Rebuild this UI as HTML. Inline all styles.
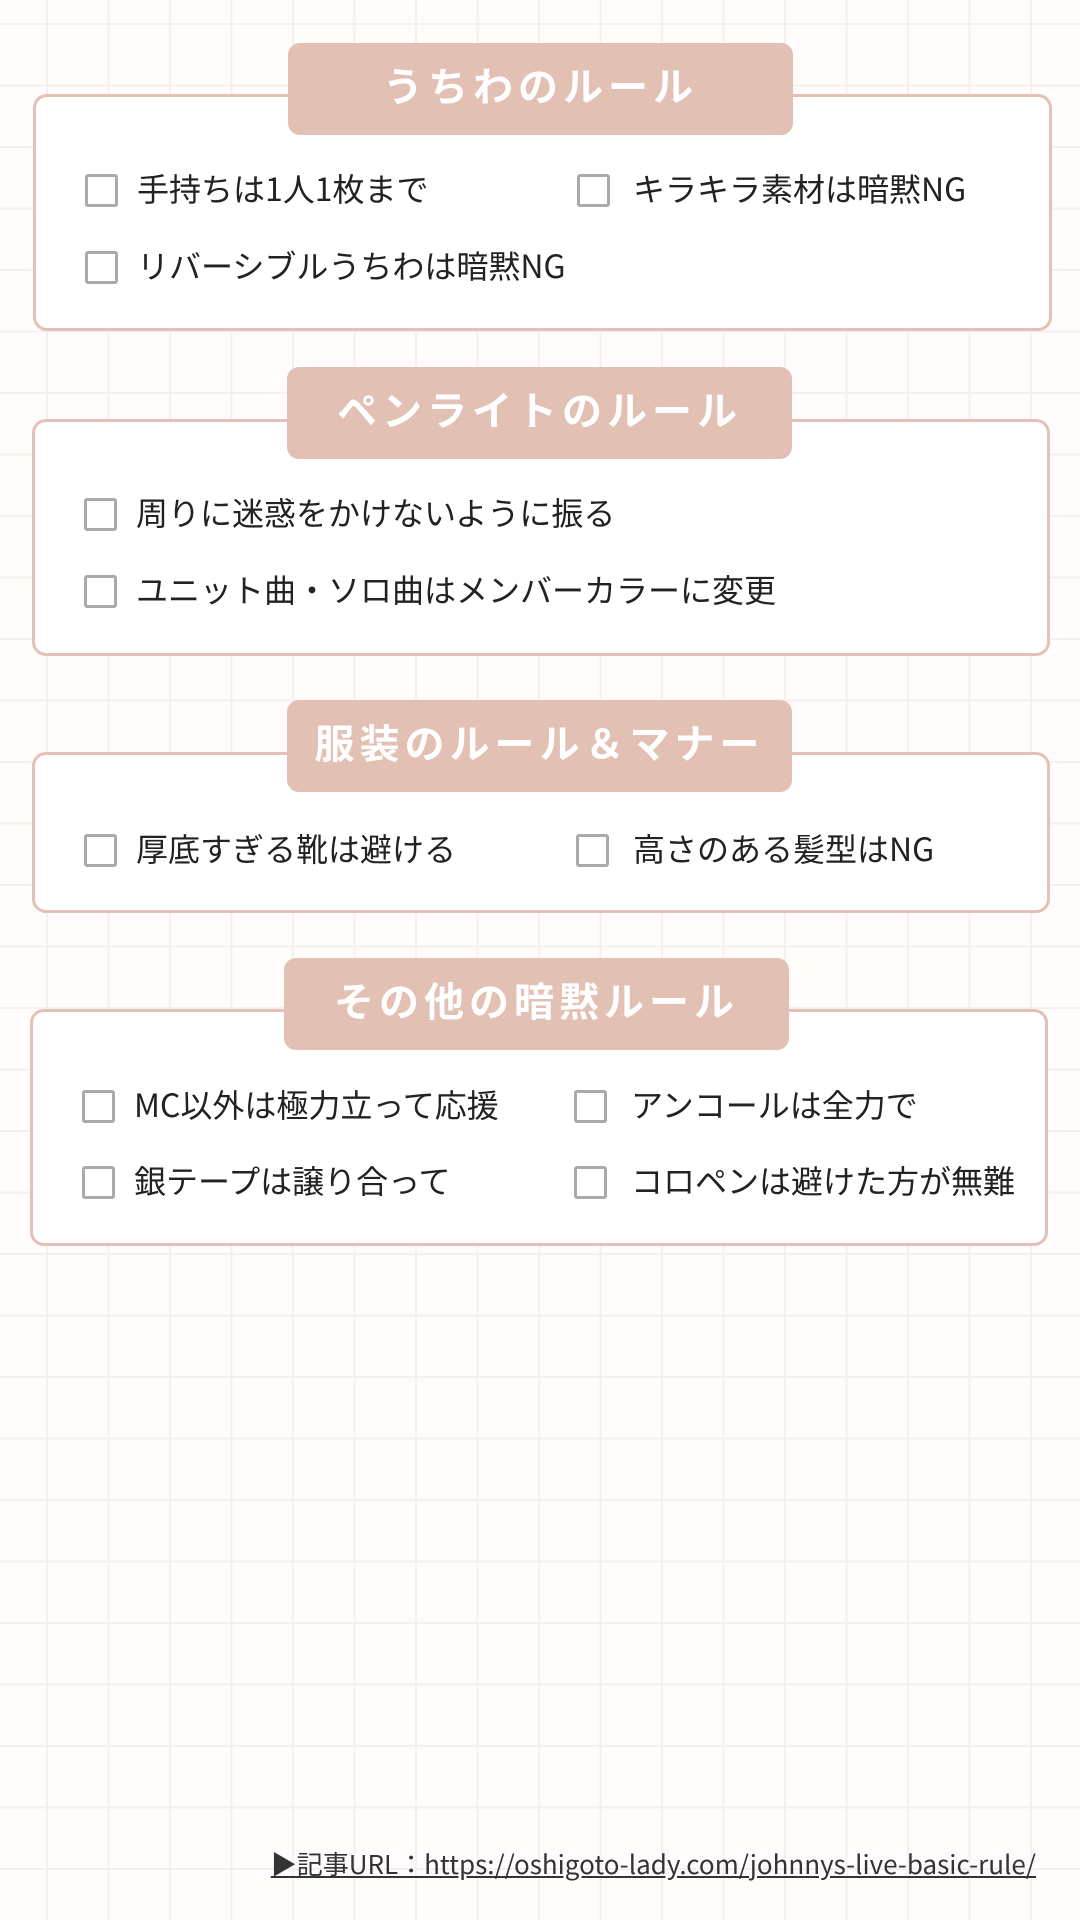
<!DOCTYPE html>
<html><head><meta charset="utf-8"><style>
html,body{margin:0;padding:0}
body{width:1080px;height:1920px;position:relative;overflow:hidden;background-color:#fffcfb;
background-image:linear-gradient(to right,#f3f1ef 2px,transparent 2px),linear-gradient(to bottom,#f3f1ef 2px,transparent 2px);
background-size:61.5px 61.5px;background-position:46px 23px;
font-family:"Noto Sans CJK JP","Liberation Sans",sans-serif;color:#222}
.box{position:absolute;background:#fff;border:3px solid #e3c1b6;border-radius:14px;box-sizing:border-box}
.lab{position:absolute;background:#e2c0b4;border-radius:12px;color:#fff;font-weight:bold;font-size:40px;letter-spacing:5px;text-align:center;display:flex;align-items:center;justify-content:center;box-sizing:border-box;padding-bottom:10px}
.cb{position:absolute;width:33px;height:33px;border:3px solid #aaa;border-radius:3px;box-sizing:border-box;background:#fff}
.t{position:absolute;font-size:32px;line-height:40px;white-space:nowrap}
.foot{position:absolute;right:44px;top:1845px;font-size:26px;color:#333;text-decoration:underline;white-space:nowrap}
</style></head><body>

<div class="box" style="left:33px;top:94px;width:1019px;height:237px"></div>
<div class="lab" style="left:288px;top:43px;width:505px;height:92px">うちわのルール</div>
<div class="cb" style="left:85px;top:174px"></div><div class="t" style="left:137px;top:168px">手持ちは1人1枚まで</div>
<div class="cb" style="left:577px;top:174px"></div><div class="t" style="left:633px;top:168px">キラキラ素材は暗黙NG</div>
<div class="cb" style="left:85px;top:251px"></div><div class="t" style="left:137px;top:245px">リバーシブルうちわは暗黙NG</div>

<div class="box" style="left:32px;top:419px;width:1018px;height:237px"></div>
<div class="lab" style="left:287px;top:367px;width:505px;height:92px">ペンライトのルール</div>
<div class="cb" style="left:84px;top:498px"></div><div class="t" style="left:136px;top:492px">周りに迷惑をかけないように振る</div>
<div class="cb" style="left:84px;top:575px"></div><div class="t" style="left:136px;top:569px">ユニット曲・ソロ曲はメンバーカラーに変更</div>

<div class="box" style="left:32px;top:752px;width:1018px;height:161px"></div>
<div class="lab" style="left:287px;top:700px;width:505px;height:92px">服装のルール＆マナー</div>
<div class="cb" style="left:84px;top:834px"></div><div class="t" style="left:136px;top:828px">厚底すぎる靴は避ける</div>
<div class="cb" style="left:576px;top:834px"></div><div class="t" style="left:633px;top:828px">高さのある髪型はNG</div>

<div class="box" style="left:30px;top:1009px;width:1018px;height:237px"></div>
<div class="lab" style="left:284px;top:958px;width:505px;height:92px">その他の暗黙ルール</div>
<div class="cb" style="left:82px;top:1090px"></div><div class="t" style="left:134px;top:1084px">MC以外は極力立って応援</div>
<div class="cb" style="left:574px;top:1090px"></div><div class="t" style="left:631px;top:1084px">アンコールは全力で</div>
<div class="cb" style="left:82px;top:1166px"></div><div class="t" style="left:134px;top:1160px">銀テープは譲り合って</div>
<div class="cb" style="left:574px;top:1166px"></div><div class="t" style="left:631px;top:1160px">コロペンは避けた方が無難</div>

<div class="foot">▶記事URL：https://oshigoto-lady.com/johnnys-live-basic-rule/</div>
</body></html>
